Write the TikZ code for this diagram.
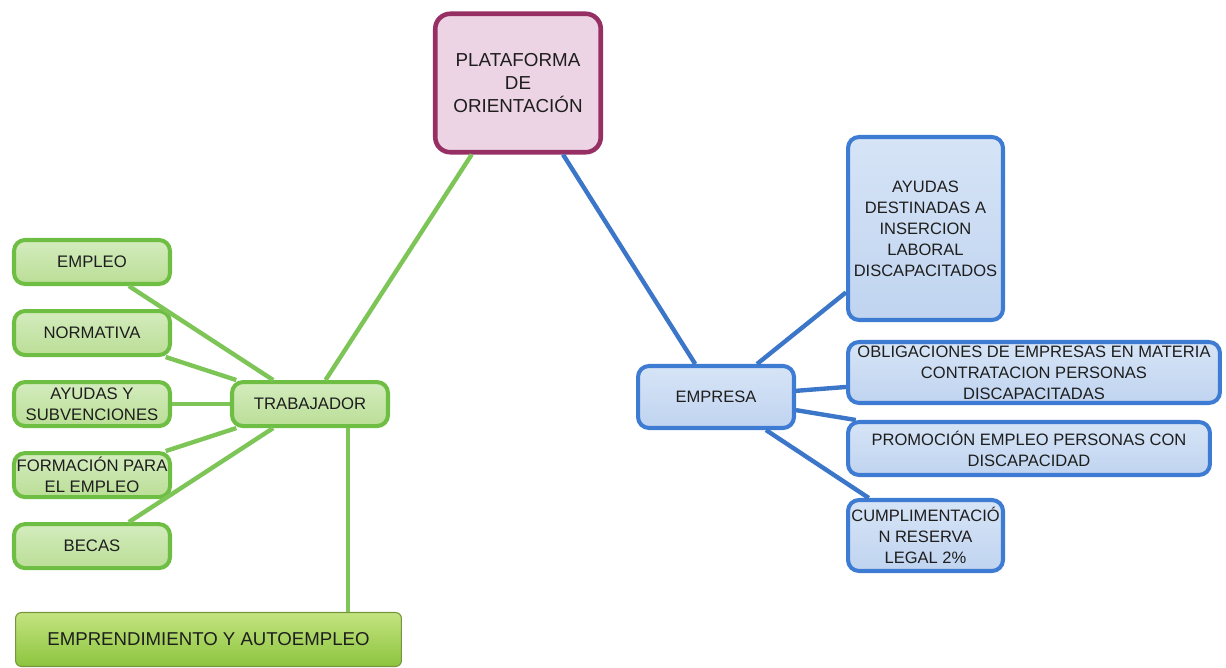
\documentclass[tikz,border=0pt]{standalone}
\usepackage{fontspec}
\setmainfont{Liberation Sans}
\usepackage{tikz}
\usetikzlibrary{positioning}
\definecolor{MapGreen}{RGB}{110,190,68}
\definecolor{MapGreenLight}{RGB}{212,236,190}
\definecolor{MapGreenMid}{RGB}{186,222,150}
\definecolor{MapBlue}{RGB}{62,124,212}
\definecolor{MapBlueLight}{RGB}{214,228,246}
\definecolor{MapBlueMid}{RGB}{192,212,240}
\definecolor{MapPurple}{RGB}{150,48,100}
\definecolor{MapPink}{RGB}{236,212,228}
\definecolor{MapOlive}{RGB}{118,150,60}
\definecolor{MapLime}{RGB}{196,228,128}
\definecolor{MapLimeDark}{RGB}{140,196,62}
\definecolor{MapText}{RGB}{30,30,30}
\tikzset{
  greenbox/.style={draw=MapGreen, line width=2.3pt, rounded corners=0.22cm, align=center, top color=MapGreenLight, bottom color=MapGreenMid, text=MapText, minimum width=3.12cm, minimum height=0.88cm, inner sep=1.5pt, font=\fontsize{9.5}{11.8}\selectfont},
  bluebox/.style={draw=MapBlue, line width=2.3pt, rounded corners=0.22cm, align=center, top color=MapBlueLight, bottom color=MapBlueMid, text=MapText, inner sep=2pt, font=\fontsize{9.4}{12}\selectfont},
  rootbox/.style={draw=MapPurple, line width=2.6pt, rounded corners=0.3cm, align=center, fill=MapPink, text=MapText, minimum width=3.31cm, minimum height=2.77cm, font=\fontsize{10.7}{13}\selectfont},
  limebox/.style={draw=MapOlive, line width=0.6pt, rounded corners=0.12cm, align=center, top color=MapLime, bottom color=MapLimeDark, text=MapText, minimum width=7.72cm, minimum height=1.08cm, font=\fontsize{10.6}{13}\selectfont},
  gline/.style={draw=MapGreen!90!white, line width=2.5pt},
  bline/.style={draw=MapBlue!95!black, line width=2.5pt}
}
\begin{document}
\begin{tikzpicture}[x=0.02cm, y=-0.02cm, node distance=0.46cm]
\useasboundingbox (0,0) rectangle (1226,668);
% root
\node[rootbox] (plat) at (518,83) {PLATAFORMA\\DE\\ORIENTACIÓN};
% left branch
\node[greenbox] (empleo) at (92,262) {EMPLEO};
\node[greenbox, below=of empleo] (normativa) {NORMATIVA};
\node[greenbox, below=of normativa] (ayudas) {AYUDAS Y\\SUBVENCIONES};
\node[greenbox, below=of ayudas] (formacion) {FORMACIÓN PARA\\EL EMPLEO};
\node[greenbox, below=of formacion] (becas) {BECAS};
\node[greenbox, right=1.16cm of ayudas] (trab) {TRABAJADOR};
\node[limebox] (empr) at (208.5,639.5) {EMPRENDIMIENTO Y AUTOEMPLEO};
% right branch
\node[bluebox, minimum width=3.12cm, minimum height=1.24cm] (empresa) at (716,397) {EMPRESA};
\node[bluebox, anchor=west, minimum width=3.1cm, minimum height=3.66cm] (ayudasdest) at (846,228.5) {AYUDAS\\DESTINADAS A\\INSERCION\\LABORAL\\DISCAPACITADOS};
\node[bluebox, anchor=west, minimum width=7.44cm, minimum height=1.22cm] (oblig) at (846,372.5) {OBLIGACIONES DE EMPRESAS EN MATERIA\\CONTRATACION PERSONAS\\DISCAPACITADAS};
\node[bluebox, anchor=west, minimum width=7.24cm, minimum height=1.06cm] (promo) at (846,448.5) {PROMOCIÓN EMPLEO PERSONAS CON\\DISCAPACIDAD};
\node[bluebox, anchor=west, minimum width=3.1cm, minimum height=1.42cm, inner sep=1pt] (cumpl) at (846,535.5) {CUMPLIMENTACIÓ\\N RESERVA\\LEGAL 2\%};
% connectors
\draw[gline] (plat) -- (trab);
\draw[gline] (empleo) -- (trab);
\draw[gline] (normativa) -- (trab);
\draw[gline] (ayudas) -- (trab);
\draw[gline] (formacion) -- (trab);
\draw[gline] (becas) -- (trab);
\draw[gline] ([xshift=0.76cm]trab.south) -- ([xshift=0.76cm]trab.south |- empr.north);
\draw[bline] (plat) -- (empresa);
\draw[bline] (empresa) -- (ayudasdest);
\draw[bline] (empresa) -- (oblig);
\draw[bline] (empresa) -- (promo);
\draw[bline] (empresa) -- (cumpl);
\end{tikzpicture}
\end{document}
